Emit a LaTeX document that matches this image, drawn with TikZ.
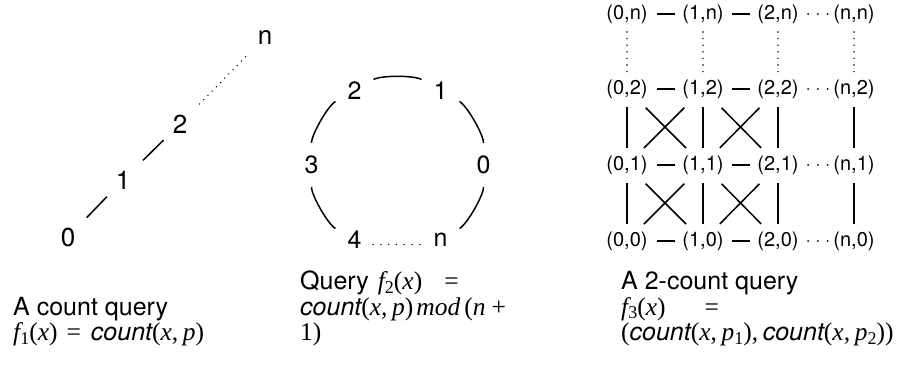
\documentclass[tikz,border=0pt]{standalone}
\usepackage{fontspec}
\setmainfont{TeX Gyre Heros}
\newfontfamily\tms{Liberation Serif}
\newcommand\mv[1]{{\fontsize{25.5}{30}\selectfont\tms\itshape #1}}
\newcommand\mr[1]{{\fontsize{25.5}{30}\selectfont\tms #1}}
\newcommand\msb[1]{\raisebox{-0.16em}{\fontsize{18}{20}\selectfont\tms #1}}
\newcommand\cnt{{\itshape count}}
\newcommand\cm{\mr{,}\hspace{4.6pt}}
\begin{document}
\begin{tikzpicture}[x=1pt,y=-1pt,
  big/.style={font=\fontsize{26}{30}\selectfont, inner sep=0pt},
  mid/.style={font=\fontsize{25}{30}\selectfont, inner sep=0pt},
  sm/.style={font=\fontsize{20}{24}\selectfont, inner sep=0pt},
  captxt/.style={font=\fontsize{25}{30}\selectfont, inner sep=0pt, anchor=base west, text height=17pt, text depth=5pt},
  edge/.style={line width=1.5pt},
  dotsA/.style={line width=1.5pt, line cap=round, dash pattern=on 0pt off 6pt},
  dotsB/.style={line width=1.5pt, line cap=round, dash pattern=on 0pt off 7.8pt},
  hdots/.style={line width=2pt, line cap=round, dash pattern=on 0pt off 9.8pt},
  vdots/.style={line width=1.6pt, line cap=round, dash pattern=on 0pt off 6.6pt}]
\useasboundingbox (0,0) rectangle (908,366);
% left panel
\node[big] (a0) at (68,237) {0};
\node[big] (a1) at (123,180) {1};
\node[big] (a2) at (180,124) {2};
\node[big] (an) at (265,37) {n};
\draw[edge, shorten <=27pt, shorten >=23pt] (a0.center) -- (a1.center);
\draw[edge, shorten <=28pt, shorten >=23pt] (a1.center) -- (a2.center);
\draw[dotsA, shorten <=28pt, shorten >=25pt] (a2.center) -- (an.center);
% middle panel
\node[mid] (m0) at (483.5,165) {0};
\node[mid] (m1) at (440.5,90.5) {1};
\node[mid] (m2) at (354.5,90.5) {2};
\node[mid] (m3) at (311.5,165) {3};
\node[mid] (m4) at (354.5,239.5) {4};
\node[mid] (mn) at (440.5,239.5) {n};
\foreach \p/\q in {m0/m1,m1/m2,m2/m3,m3/m4,mn/m0}
  \draw[edge, shorten <=22pt, shorten >=22pt] (\p.center) to[bend right=30, looseness=0.91] (\q.center);
\draw[dotsB, shorten <=18.5pt, shorten >=20.5pt] ([yshift=-5pt]m4.center) -- ([yshift=-5pt]mn.center);
% grid
\foreach \c/\x in {0/627,1/703,2/778,n/854}
  \foreach \r/\y in {n/14,2/89,1/165,0/241}
    \node[sm] (g\c\r) at (\x,\y) {(\c,\r)};
\foreach \r in {n,2,1,0}{
  \draw[edge, shorten <=30pt, shorten >=28pt] (g0\r.center) -- (g1\r.center);
  \draw[edge, shorten <=29pt, shorten >=28pt] (g1\r.center) -- (g2\r.center);
  \draw[hdots, shorten <=30pt, shorten >=25.5pt] (g2\r.center) -- (gn\r.center);
}
\foreach \c in {0,1,2,n}{
  \draw[vdots, shorten <=18pt, shorten >=17pt] (g\c n.center) -- (g\c 2.center);
  \draw[edge, shorten <=18pt, shorten >=17pt] (g\c 2.center) -- (g\c 1.center);
  \draw[edge, shorten <=18pt, shorten >=17pt] (g\c 1.center) -- (g\c 0.center);
}
\foreach \u/\l in {2/1,1/0}{
  \draw[edge, shorten <=26.5pt, shorten >=24pt] (g0\u.center) -- (g1\l.center);
  \draw[edge, shorten <=26.5pt, shorten >=24pt] (g1\u.center) -- (g0\l.center);
  \draw[edge, shorten <=26.5pt, shorten >=24pt] (g1\u.center) -- (g2\l.center);
  \draw[edge, shorten <=26.5pt, shorten >=24pt] (g2\u.center) -- (g1\l.center);
}
% captions
\node[captxt] (c1a) at (13,315) {A count query};
\node[captxt] (c1b) at (13,340) {\mv{f}\msb{1}\mr{(}\mv{x}\mr{)}\hspace{9pt}\mr{=}\hspace{10pt}\cnt\mr{(}\mv{x}\cm\mv{p}\mr{)}};
\node[captxt] (c2a) at (300,290) {Query\hspace{9pt}\mv{f}\msb{2}\mr{(}\mv{x}\mr{)}\hspace{22pt}\mr{=}};
\node[captxt] (c2b) at (300,315) {\cnt\mr{(}\mv{x}\cm\mv{p}\mr{)}\hspace{3pt}\mv{mod}\hspace{4pt}\mr{(}\mv{n}\hspace{6pt}\mr{+}};
\node[captxt] (c2c) at (300,340) {\mr{1)}};
\node[captxt] (c3a) at (621,290) {A 2-count query};
\node[captxt] (c3b) at (621,315) {\mv{f}\msb{3}\mr{(}\mv{x}\mr{)}\hspace{39pt}\mr{=}};
\node[captxt] (c3c) at (621,340) {\mr{(}\cnt\mr{(}\mv{x}\cm\mv{p}\msb{1}\mr{)}\cm\cnt\mr{(}\mv{x}\cm\mv{p}\msb{2}\mr{))}};
\end{tikzpicture}
\end{document}
